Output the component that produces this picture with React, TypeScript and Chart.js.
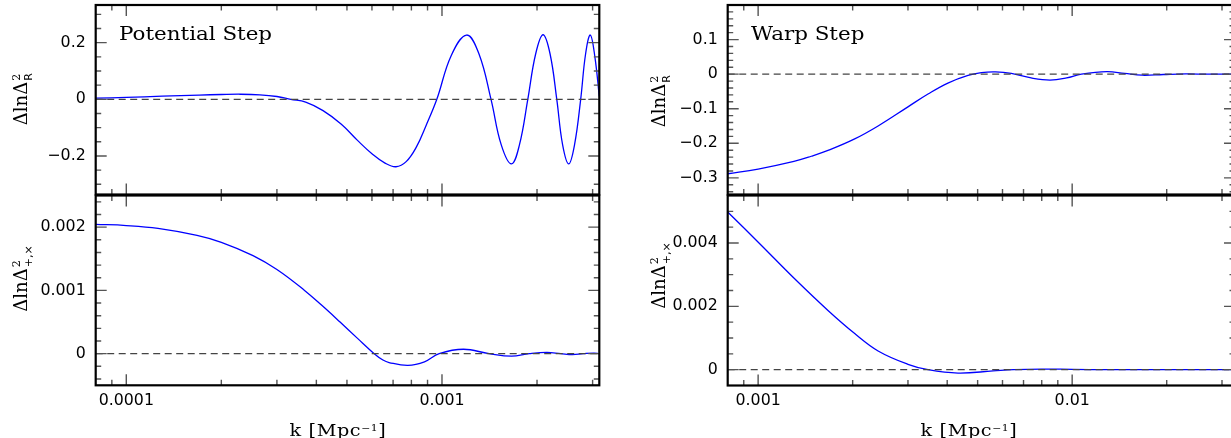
import { useEffect, useRef } from 'react';
import { Chart, ChartConfiguration, registerables } from 'chart.js';

Chart.register(...registerables);

// ---- curves ----
// potential step, scalar
const potK = [8e-5, 1e-4, 1.3e-4, 1.7e-4, 2.0e-4, 2.3e-4, 2.65e-4, 3.0e-4, 3.32e-4, 3.7e-4, 4.2e-4, 4.8e-4, 5.4e-4, 6.0e-4, 6.6e-4, 7.15e-4, 7.7e-4, 8.3e-4, 8.9e-4, 9.63e-4, 1.07e-3, 1.197e-3, 1.31e-3, 1.43e-3, 1.54e-3, 1.66e-3, 1.76e-3, 1.87e-3, 1.98e-3, 2.09e-3, 2.2e-3, 2.31e-3, 2.41e-3, 2.52e-3, 2.63e-3, 2.75e-3, 2.85e-3, 2.95e-3, 3.05e-3, 3.15e-3];
const potR = [0.004, 0.007, 0.011, 0.015, 0.017, 0.018, 0.016, 0.010, 0.0, -0.01, -0.04, -0.088, -0.145, -0.192, -0.225, -0.238, -0.22, -0.168, -0.093, 0.0, 0.155, 0.227, 0.16, 0.0, -0.16, -0.228, -0.16, 0.0, 0.16, 0.228, 0.16, 0.0, -0.16, -0.228, -0.16, 0.0, 0.16, 0.227, 0.15, 0.01];
// potential step, tensor
const potTK = [8e-5, 1e-4, 1.26e-4, 1.675e-4, 2.0e-4, 2.52e-4, 3.0e-4, 3.67e-4, 4.17e-4, 4.755e-4, 5.38e-4, 6.1e-4, 6.5e-4, 6.8e-4, 7.8e-4, 8.8e-4, 9.8e-4, 1.17e-3, 1.41e-3, 1.66e-3, 1.89e-3, 2.15e-3, 2.38e-3, 2.59e-3, 2.8e-3, 3.03e-3, 3.15e-3];
const potT = [0.002044, 0.002025, 0.00198, 0.00187, 0.00176, 0.00155, 0.00133, 0.001, 0.00076, 0.0005, 0.00025, 0.0, -0.0001, -0.00014, -0.000185, -0.00013, 0.0, 0.00007, 0.0, -0.00004, 0.0, 0.00002, 0.0, -0.000015, 0.0, 0.00001, 0.0];
// warp step, scalar
const warpK = [8e-4, 1e-3, 1.3e-3, 1.476e-3, 1.669e-3, 2.03e-3, 2.41e-3, 3.0e-3, 3.475e-3, 4.02e-3, 4.66e-3, 5.14e-3, 5.7e-3, 6.4e-3, 7.4e-3, 8.5e-3, 9.6e-3, 1.07e-2, 1.29e-2, 1.47e-2, 1.67e-2, 1.95e-2, 2.3e-2, 2.7e-2, 3.3e-2];
const warpR = [-0.288, -0.2743, -0.2521, -0.2374, -0.2206, -0.1872, -0.1498, -0.0945, -0.0575, -0.0257, -0.0036, 0.0044, 0.0065, 0.002, -0.011, -0.017, -0.011, 0.0, 0.0075, 0.002, -0.003, -0.001, 0.0007, 0.0, 0.0];
// warp step, tensor
const warpTK = [8e-4, 1.023e-3, 1.307e-3, 1.669e-3, 2.03e-3, 2.41e-3, 3.0e-3, 3.475e-3, 4.33e-3, 5.6e-3, 6.5e-3, 8e-3, 1.0e-2, 1.3e-2, 3.3e-2];
const warpT = [0.00498, 0.00393, 0.00287, 0.00187, 0.00114, 0.00059, 0.00017, 0.0, -0.000107, -0.00004, 0.0, 0.00002, 0.00001, 0.0, 0.0];

// ---- axes ----
const potKRange = [8e-5, 3.15e-3];
const potKMajor = [1e-4, 1e-3];
const potKMinor = [9e-5, 2e-4, 3e-4, 4e-4, 5e-4, 6e-4, 7e-4, 8e-4, 9e-4, 2e-3, 3e-3];
const potKLabels = ['0.0001', '0.001'];

const warpKRange = [8e-4, 0.033];
const warpKMajor = [1e-3, 1e-2];
const warpKMinor = [9e-4, 2e-3, 3e-3, 4e-3, 5e-3, 6e-3, 7e-3, 8e-3, 9e-3, 2e-2, 3e-2];
const warpKLabels = ['0.001', '0.01'];

const potRRange = [-0.336, 0.333];
const potRMajor = [-0.2, 0, 0.2];
const potRMinor = [-0.3, -0.25, -0.15, -0.1, -0.05, 0.05, 0.1, 0.15, 0.25, 0.3];
const potRLabels = ['\u22120.2', '0', '0.2'];

const potTRange = [-0.0005, 0.0025];
const potTMajor = [0, 0.001, 0.002];
const potTMinor = [-0.0004, -0.0002, 0.0002, 0.0004, 0.0006, 0.0008, 0.0012, 0.0014, 0.0016, 0.0018, 0.0022, 0.0024];
const potTLabels = ['0', '0.001', '0.002'];

const warpRRange = [-0.348, 0.2];
const warpRMajor = [-0.3, -0.2, -0.1, 0, 0.1];
const warpRMinor = [-0.34, -0.32, -0.28, -0.26, -0.24, -0.22, -0.18, -0.16, -0.14, -0.12, -0.08, -0.06, -0.04, -0.02, 0.02, 0.04, 0.06, 0.08, 0.12, 0.14, 0.16, 0.18];
const warpRLabels = ['\u22120.3', '\u22120.2', '\u22120.1', '0', '0.1'];

const warpTRange = [-0.0005, 0.0055];
const warpTMajor = [0, 0.002, 0.004];
const warpTMinor = [0.0005, 0.001, 0.0015, 0.0025, 0.003, 0.0035, 0.0045, 0.005];
const warpTLabels = ['0', '0.002', '0.004'];

const zeroLevel = 0;

const TICK_FONT = { family: 'DejaVu Sans', size: 15.8 };

// inward ticks on all four sides plus the black frame
const makeFrame = (xMaj: number[], xMin: number[], yMaj: number[], yMin: number[]) => ({
  id: 'frameTicks',
  afterDatasetsDraw(chart: any) {
    const { ctx, chartArea: a, scales } = chart;
    ctx.save();
    ctx.strokeStyle = '#555';
    ctx.lineWidth = 1.4;
    ctx.beginPath();
    const xt = (list: number[], len: number) =>
      list.forEach((v) => {
        const px = scales.x.getPixelForValue(v);
        ctx.moveTo(px, a.bottom);
        ctx.lineTo(px, a.bottom - len);
        ctx.moveTo(px, a.top);
        ctx.lineTo(px, a.top + len);
      });
    const yt = (list: number[], len: number) =>
      list.forEach((v) => {
        const py = scales.y.getPixelForValue(v);
        ctx.moveTo(a.left, py);
        ctx.lineTo(a.left + len, py);
        ctx.moveTo(a.right, py);
        ctx.lineTo(a.right - len, py);
      });
    xt(xMaj, 11);
    xt(xMin, 5.5);
    yt(yMaj, 11);
    yt(yMin, 5.5);
    ctx.stroke();
    ctx.strokeStyle = '#000';
    ctx.lineWidth = 2.2;
    ctx.strokeRect(a.left, a.top, a.right - a.left, a.bottom - a.top);
    ctx.restore();
  },
});

interface PanelProps {
  left: number;
  top: number;
  width: number;
  height: number;
  k: number[];
  v: number[];
  kRange: number[];
  vRange: number[];
  kMajor: number[];
  kMinor: number[];
  kLabels: string[] | null;
  vMajor: number[];
  vMinor: number[];
  vLabels: string[];
  axisWidth: number;
  axisHeight: number;
  pad: { top: number; right: number; bottom: number };
}

const Panel = (p: PanelProps) => {
  const canvasRef = useRef<HTMLCanvasElement>(null);

  useEffect(() => {
    if (!canvasRef.current) return;
    const ctx = canvasRef.current.getContext('2d');
    if (!ctx) return;

    const config: ChartConfiguration = {
      type: 'line',
      data: {
        datasets: [
          {
            data: [
              { x: p.kRange[0], y: zeroLevel },
              { x: p.kRange[1], y: zeroLevel },
            ],
            borderColor: '#444',
            borderWidth: 1.3,
            borderDash: [7, 4.5],
            pointRadius: 0,
            order: 0,
          },
          {
            data: p.k.map((x, i) => ({ x, y: p.v[i] })),
            borderColor: '#0000ff',
            borderWidth: 1.3,
            pointRadius: 0,
            tension: 0.4,
            order: 1,
          },
        ],
      },
      options: {
        responsive: true,
        maintainAspectRatio: false,
        animation: false,
        events: [],
        layout: { padding: { left: 0, top: p.pad.top, right: p.pad.right, bottom: p.pad.bottom } },
        plugins: {
          legend: { display: false },
          tooltip: { enabled: false },
        },
        scales: {
          x: {
            type: 'logarithmic',
            min: p.kRange[0],
            max: p.kRange[1],
            display: p.kLabels !== null,
            grid: { display: false, drawTicks: false },
            border: { display: false },
            afterBuildTicks: (scale: any) => {
              scale.ticks = p.kMajor.map((value) => ({ value }));
            },
            afterFit: (scale: any) => {
              scale.height = p.axisHeight;
              scale.paddingLeft = 0;
              scale.paddingRight = 0;
            },
            ticks: {
              autoSkip: false,
              maxRotation: 0,
              padding: 6,
              color: '#000',
              font: TICK_FONT,
              callback: (_v: any, i: number) => (p.kLabels ? p.kLabels[i] : ''),
            },
          },
          y: {
            type: 'linear',
            min: p.vRange[0],
            max: p.vRange[1],
            grid: { display: false, drawTicks: false },
            border: { display: false },
            afterBuildTicks: (scale: any) => {
              scale.ticks = p.vMajor.map((value) => ({ value }));
            },
            afterFit: (scale: any) => {
              scale.width = p.axisWidth;
              scale.paddingTop = 0;
              scale.paddingBottom = 0;
            },
            ticks: {
              autoSkip: false,
              padding: 10,
              color: '#000',
              font: TICK_FONT,
              callback: (_v: any, i: number) => p.vLabels[i],
            },
          },
        },
      },
      plugins: [makeFrame(p.kMajor, p.kMinor, p.vMajor, p.vMinor)],
    } as any;

    const chart = new Chart(ctx, config);
    return () => {
      chart.destroy();
    };
  }, []);

  return (
    <div style={{ position: 'absolute', left: p.left, top: p.top, width: p.width, height: p.height }}>
      <canvas ref={canvasRef}></canvas>
    </div>
  );
};

const serif = '"DejaVu Serif", serif';

const YTitle = ({ cx, cy, sub, subWidth }: { cx: number; cy: number; sub: string; subWidth: number }) => (
  <div
    style={{
      position: 'absolute',
      left: cx,
      top: cy,
      transform: 'translate(-50%, -50%) rotate(-90deg)',
      font: `18px ${serif}`,
      lineHeight: '18px',
      whiteSpace: 'nowrap',
      color: '#000',
    }}
  >
    ΔlnΔ
    <span style={{ display: 'inline-block', position: 'relative', width: subWidth, height: 1 }}>
      <span style={{ position: 'absolute', left: 1, top: -15.5, fontSize: 11, lineHeight: '11px' }}>2</span>
      <span style={{ position: 'absolute', left: 1, top: -3, fontSize: 11, lineHeight: '11px', fontFamily: '"DejaVu Sans", sans-serif' }}>{sub}</span>
    </span>
  </div>
);

const KTitle = ({ cx }: { cx: number }) => (
  <div
    style={{
      position: 'absolute',
      left: cx,
      top: 419.5,
      transform: 'translateX(-50%) scaleX(1.2)',
      font: `16px ${serif}`,
      lineHeight: '16px',
      letterSpacing: '0.5px',
      whiteSpace: 'nowrap',
    }}
  >
    k [Mpc<span style={{ fontSize: 9, verticalAlign: 5 }}>−1</span>]
  </div>
);

const PanelName = ({ x, text }: { x: number; text: string }) => (
  <div
    style={{
      position: 'absolute',
      left: x,
      top: 24.8,
      transform: 'scaleX(1.19)',
      transformOrigin: 'left top',
      font: `18px ${serif}`,
      lineHeight: '18px',
      whiteSpace: 'nowrap',
    }}
  >
    {text}
  </div>
);

const App = () => {
  return (
    <div style={{ position: 'absolute', left: 0, top: 0, width: 1231, height: 438, overflow: 'hidden', background: '#fff' }}>
      <Panel left={0} top={0} width={612} height={200} k={potK} v={potR} kRange={potKRange} vRange={potRRange}
        kMajor={potKMajor} kMinor={potKMinor} kLabels={null} vMajor={potRMajor} vMinor={potRMinor} vLabels={potRLabels}
        axisWidth={95.7} axisHeight={0} pad={{ top: 5, right: 12.7, bottom: 5.5 }} />
      <Panel left={0} top={190} width={612} height={248} k={potTK} v={potT} kRange={potKRange} vRange={potTRange}
        kMajor={potKMajor} kMinor={potKMinor} kLabels={potKLabels} vMajor={potTMajor} vMinor={potTMinor} vLabels={potTLabels}
        axisWidth={95.7} axisHeight={52.7} pad={{ top: 5.5, right: 12.7, bottom: 0 }} />
      <Panel left={620} top={0} width={620} height={200} k={warpK} v={warpR} kRange={warpKRange} vRange={warpRRange}
        kMajor={warpKMajor} kMinor={warpKMinor} kLabels={null} vMajor={warpRMajor} vMinor={warpRMinor} vLabels={warpRLabels}
        axisWidth={107.7} axisHeight={0} pad={{ top: 5, right: 5, bottom: 5.5 }} />
      <Panel left={620} top={190} width={620} height={248} k={warpTK} v={warpT} kRange={warpKRange} vRange={warpTRange}
        kMajor={warpKMajor} kMinor={warpKMinor} kLabels={warpKLabels} vMajor={warpTMajor} vMinor={warpTMinor} vLabels={warpTLabels}
        axisWidth={107.7} axisHeight={52.5} pad={{ top: 5.5, right: 5, bottom: 0 }} />

      <PanelName x={119} text="Potential Step" />
      <PanelName x={750.5} text="Warp Step" />
      <YTitle cx={21} cy={99} sub="R" subWidth={9} />
      <YTitle cx={21} cy={281} sub="+,×" subWidth={18} />
      <YTitle cx={659} cy={101} sub="R" subWidth={9} />
      <YTitle cx={659} cy={278} sub="+,×" subWidth={18} />
      <KTitle cx={337.5} />
      <KTitle cx={969} />
    </div>
  );
};

export default App;
